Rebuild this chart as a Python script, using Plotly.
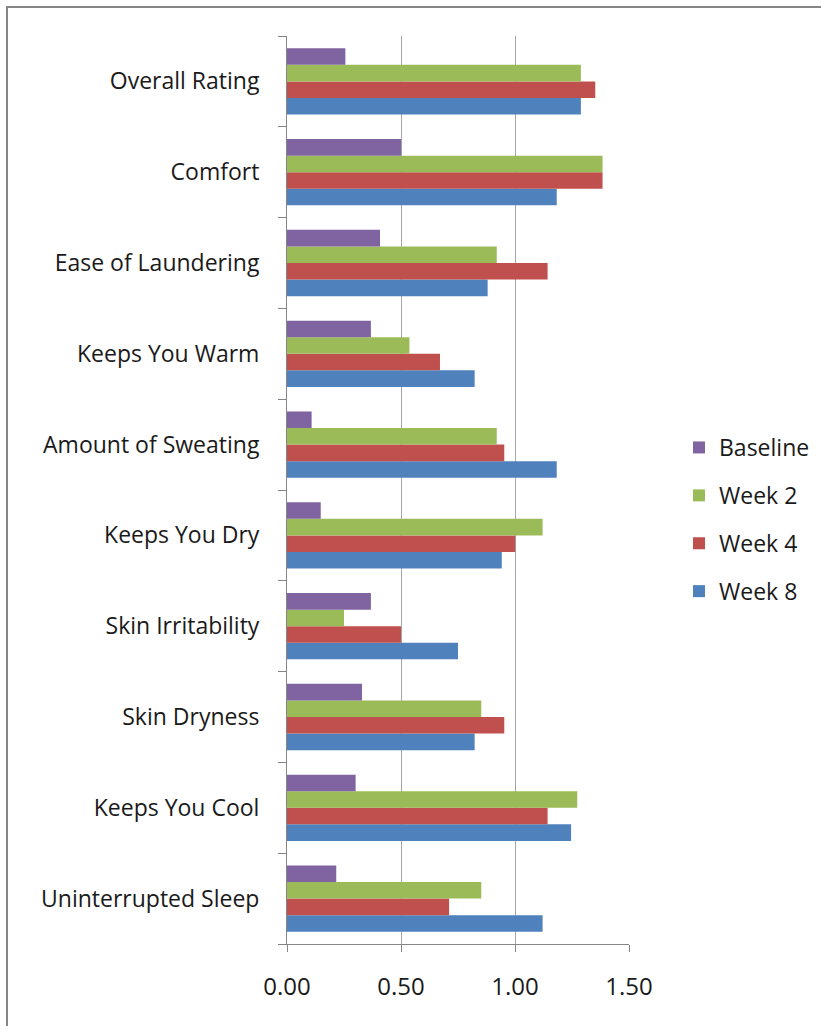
import plotly.graph_objects as go

categories = ["Uninterrupted Sleep", "Keeps You Cool", "Skin Dryness", "Skin Irritability",
              "Keeps You Dry", "Amount of Sweating", "Keeps You Warm", "Ease of Laundering",
              "Comfort", "Overall Rating"]
baseline = [0.216, 0.301, 0.329, 0.368, 0.148, 0.108, 0.368, 0.408, 0.500, 0.256]
week2 = [0.852, 1.273, 0.852, 0.250, 1.121, 0.920, 0.537, 0.920, 1.384, 1.289]
week4 = [0.711, 1.143, 0.953, 0.500, 1.001, 0.953, 0.671, 1.143, 1.384, 1.352]
week8 = [1.121, 1.246, 0.823, 0.750, 0.942, 1.183, 0.823, 0.880, 1.183, 1.289]
x_ticks = [0, 0.5, 1.0, 1.5]

series = [("Week 8", week8, "#4F81BD", 4), ("Week 4", week4, "#C0504D", 3),
          ("Week 2", week2, "#9BBB59", 2), ("Baseline", baseline, "#8064A2", 1)]

fig = go.Figure()
for name, vals, col, rank in series:
    fig.add_trace(go.Bar(y=categories, x=vals, name=name, orientation="h",
                         marker=dict(color=col, line=dict(width=0)),
                         legendgroup=name, legendrank=rank))

W, H = 821, 1026
L, R, T, B = 287, 192, 36, 82
pw, ph = W - L - R, H - T - B

def px_x(p):
    return (p - L) / pw

def px_y(p):
    return 1 - (p - T) / ph

fig.update_layout(
    width=W, height=H,
    margin=dict(l=L, r=R, t=T, b=B),
    paper_bgcolor="white", plot_bgcolor="white",
    barmode="group", bargap=0.27, bargroupgap=0,
    font=dict(family="Open Sans, Liberation Sans, sans-serif", size=23, color="#1a1a1a"),
    showlegend=True,
    legend=dict(traceorder="grouped", tracegroupgap=15,
                xref="container", yref="container",
                x=679 / W, y=1 - 426 / H, xanchor="left", yanchor="top",
                font=dict(size=23), itemwidth=30, bgcolor="rgba(0,0,0,0)"),
    xaxis=dict(range=[0, 1.5], tickvals=x_ticks, tickformat=".2f",
               showgrid=True, gridcolor="#a6a6a6", gridwidth=1,
               showline=True, linecolor="#868686", linewidth=1,
               ticks="outside", ticklen=7, tickcolor="#868686",
               zeroline=False, fixedrange=True, ticklabelstandoff=14,
               tickfont=dict(size=24)),
    yaxis=dict(type="category", categoryorder="array", categoryarray=categories,
               showline=True, linecolor="#868686", linewidth=1,
               ticks="outside", ticklen=8, tickcolor="#868686", tickson="boundaries",
               showgrid=False, ticklabelstandoff=22,
               tickfont=dict(size=23)),
    shapes=[dict(type="rect", xref="paper", yref="paper",
                 x0=px_x(7), x1=px_x(840), y0=px_y(1040), y1=px_y(7),
                 line=dict(color="#868686", width=2), fillcolor="rgba(0,0,0,0)")],
)

fig.write_html("out.html")
